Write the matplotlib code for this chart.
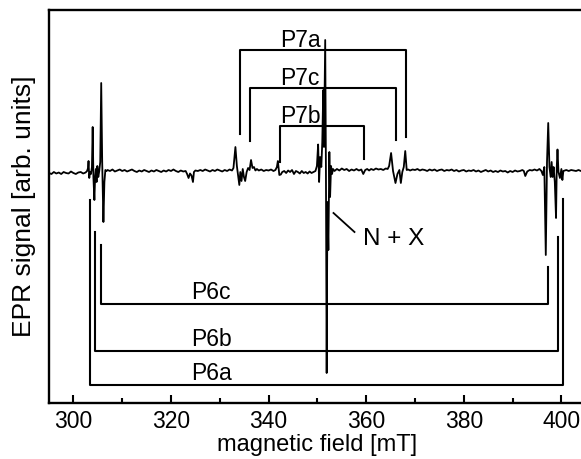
import matplotlib
matplotlib.use("Agg")
import matplotlib.pyplot as plt
from matplotlib.ticker import MultipleLocator

plt.rcParams['font.family'] = ['Liberation Sans', 'DejaVu Sans']

# EPR trace: (field in mT, signal in arb. units)
trace = [
    (295.0, -0.02), (295.5, -0.04), (296.0, 0.0), (296.5, -0.03), (297.0, -0.01),
    (297.5, -0.04), (298.0, 0.0), (298.5, -0.02), (299.0, -0.03), (299.5, 0.01),
    (300.0, -0.02), (300.5, -0.04), (301.0, -0.01), (301.5, 0.0), (302.0, -0.03),
    (302.5, -0.01),
    # P6 low-field lines
    (302.8, 0.02), (303.0, 0.08), (303.1, 0.22), (303.25, -0.12), (303.4, 0.0),
    (303.6, -0.04), (303.8, 0.1), (303.95, 0.9), (304.1, -0.1), (304.3, -0.56),
    (304.45, -0.1), (304.6, 0.06), (304.75, -0.2), (304.9, 0.12), (305.1, -0.1),
    (305.3, 0.02), (305.5, 0.2), (305.7, 1.78), (305.9, 0.2), (306.15, -1.0),
    (306.35, -0.2), (306.55, 0.04), (306.8, 0.02),
    (307.0, 0.04), (307.5, 0.02), (308.0, 0.05), (308.5, 0.01), (309.0, 0.03),
    (309.5, 0.05), (310.0, 0.02), (310.5, 0.04), (311.0, 0.01), (311.5, 0.03),
    (312.0, 0.05), (312.5, 0.02), (313.0, 0.0), (313.5, 0.03), (314.0, 0.01),
    (314.5, 0.04), (315.0, 0.02), (315.5, 0.0), (316.0, 0.03), (316.5, 0.01),
    (317.0, 0.04), (317.5, 0.02), (318.0, 0.0), (318.5, 0.03), (319.0, 0.01),
    (319.5, 0.04), (320.0, 0.02), (320.5, 0.05), (321.0, 0.02), (321.5, 0.0),
    (322.0, 0.03), (322.5, 0.01), (323.0, 0.02),
    (323.3, -0.04), (323.6, -0.12), (323.9, -0.03), (324.2, -0.07), (324.5, -0.2),
    (324.7, 0.0), (325.0, 0.03),
    (325.5, 0.02), (326.0, 0.04), (326.5, 0.02), (327.0, 0.05), (327.5, 0.03),
    (328.0, 0.01), (328.5, 0.04), (329.0, 0.02), (329.5, 0.05), (330.0, 0.03),
    (330.5, 0.01), (331.0, 0.04), (331.5, 0.02), (332.0, 0.05), (332.5, 0.03),
    # P7 low-field lines
    (332.8, 0.08), (333.2, 0.5), (333.5, 0.12), (333.8, -0.1), (334.0, -0.26),
    (334.2, 0.0), (334.45, -0.18), (334.7, 0.06), (334.95, -0.1), (335.2, -0.18),
    (335.5, 0.0), (335.8, 0.08), (336.1, 0.04), (336.4, 0.24), (336.7, 0.08),
    (337.0, 0.1), (337.3, 0.03),
    (337.6, 0.06), (338.0, 0.03), (338.5, 0.05), (339.0, 0.02), (339.5, 0.04),
    (340.0, 0.03), (340.5, 0.05), (341.0, 0.02), (341.4, 0.04),
    (341.7, 0.1), (341.9, 0.22), (342.2, -0.06), (342.5, -0.05), (342.8, 0.0),
    (343.2, 0.02), (343.6, -0.02), (344.0, 0.03), (344.4, 0.0), (344.8, 0.04),
    (345.2, -0.04), (345.6, 0.02), (346.0, 0.0), (346.4, -0.03), (346.8, 0.02),
    (347.2, -0.02), (347.6, 0.0), (348.0, -0.03), (348.4, 0.01), (348.8, -0.02),
    (349.2, 0.0), (349.6, 0.02),
    # central N + X line
    (349.9, 0.12), (350.15, 0.55), (350.35, -0.2), (350.55, 0.3), (350.8, 0.1),
    (351.0, 0.6), (351.2, 1.64), (351.35, 0.5), (351.6, 2.64), (351.75, 0.0),
    (351.9, -4.02), (352.05, -0.6), (352.25, -1.56), (352.45, 0.4), (352.6, -0.5),
    (352.8, 0.12), (353.0, -0.04), (353.2, 0.06),
    (353.5, 0.02), (354.0, 0.06), (354.5, 0.03), (355.0, 0.07), (355.5, 0.04),
    (356.0, 0.06), (356.5, 0.02), (357.0, 0.05), (357.5, 0.03), (358.0, 0.06),
    (358.5, 0.03), (359.0, 0.05), (359.4, -0.04), (359.8, 0.04), (360.2, 0.06),
    (360.6, 0.03), (361.0, 0.06), (361.5, 0.04), (362.0, 0.07), (362.5, 0.05),
    (363.0, 0.06), (363.5, 0.04), (364.0, 0.07), (364.4, 0.06),
    # P7 high-field lines
    (364.7, 0.12), (365.1, 0.38), (365.5, 0.02), (365.8, -0.12), (366.0, -0.22),
    (366.4, -0.04), (366.8, 0.04), (367.1, -0.22), (367.4, 0.0), (367.7, 0.1),
    (368.0, 0.42), (368.3, 0.04),
    (368.6, 0.05), (369.0, 0.03), (369.5, 0.05), (370.0, 0.04), (370.5, 0.06),
    (371.0, 0.03), (371.5, 0.05), (372.0, 0.04), (372.5, 0.02), (373.0, 0.05),
    (373.5, 0.03), (374.0, 0.05), (374.5, 0.02), (375.0, 0.04), (375.5, 0.05),
    (376.0, 0.02), (376.5, 0.04), (377.0, 0.03), (377.5, 0.05), (378.0, 0.02),
    (378.5, 0.04), (379.0, 0.01), (379.5, 0.03), (380.0, 0.04), (380.5, 0.01),
    (381.0, 0.03), (381.5, 0.02), (382.0, 0.04), (382.5, 0.01), (383.0, 0.03),
    (383.5, 0.0), (384.0, 0.02), (384.5, 0.04), (385.0, 0.01), (385.5, 0.03),
    (386.0, 0.0), (386.5, 0.02), (387.0, 0.0), (387.5, 0.03), (388.0, 0.01),
    (388.5, 0.02), (389.0, -0.01), (389.5, 0.02), (390.0, 0.0), (390.5, 0.03),
    (391.0, 0.01), (391.5, 0.02), (392.0, 0.04), (392.3, 0.02), (392.6, -0.08),
    (393.0, 0.01), (393.5, 0.04), (394.0, 0.03), (394.5, 0.05), (395.0, 0.03),
    (395.5, 0.06),
    # P6 high-field lines
    (395.9, 0.02), (396.2, -0.06), (396.5, 0.1), (396.8, -1.66), (397.05, 0.2),
    (397.3, 0.98), (397.55, 0.1), (397.8, -0.1), (398.0, 0.2), (398.2, -0.1),
    (398.4, 0.1), (398.65, -0.2), (398.9, -0.92), (399.05, 0.1), (399.2, 0.45),
    (399.4, 0.0), (399.7, -0.12), (400.0, 0.06), (400.2, -0.16), (400.4, 0.02),
    (400.7, 0.03),
    (401.0, 0.04), (401.5, 0.02), (402.0, 0.04), (402.5, 0.03), (403.0, 0.02),
    (403.5, 0.04), (404.0, 0.02), (404.5, 0.03), (405.0, 0.02),
]
field = [p[0] for p in trace]
signal = [p[1] for p in trace]

# line assignments: name, low-field line, high-field line (mT)
p7_names = ["P7a", "P7c", "P7b"]
p7_low = [334.2, 336.1, 342.3]
p7_high = [368.2, 366.2, 359.5]
p6_names = ["P6c", "P6b", "P6a"]
p6_low = [305.7, 304.4, 303.5]
p6_high = [397.3, 399.3, 400.4]

fig = plt.figure(figsize=(5.81, 4.59), dpi=100)
ax = fig.add_axes([49 / 581, 56 / 459, 536.8 / 581, 393 / 459])

ax.plot(field, signal, color='k', lw=1.3)

# bracket levels (bar, low tip, high tip)
p7_levels = [(2.44, 0.76, 0.70), (1.68, 0.62, 0.64), (0.92, 0.20, 0.26)]
p6_levels = [(-2.64, -1.46, -1.90), (-3.58, -1.20, -1.30), (-4.26, -0.56, -0.54)]

for name, lo, hi, (bar, t1, t2) in zip(p7_names, p7_low, p7_high, p7_levels):
    ax.plot([lo, lo, hi, hi], [t1, bar, bar, t2], color='k', lw=1.5)
    ax.text(342.3, bar + 0.06, name, fontsize=16.5, ha='left', va='baseline')

for name, lo, hi, (bar, t1, t2) in zip(p6_names, p6_low, p6_high, p6_levels):
    ax.plot([lo, lo, hi, hi], [t1, bar, bar, t2], color='k', lw=1.5)
    ax.text(324.2, bar + 0.1, name, fontsize=16.5, ha='left', va='baseline')

ax.plot([353.3, 357.6], [-0.82, -1.2], color='k', lw=1.3)
ax.text(359.4, -1.46, "N + X", fontsize=17.5, ha='left', va='baseline')

ax.set_xlim(295, 405)
ax.set_ylim(-4.62, 3.24)
ax.set_yticks([])
ax.set_xticks(range(300, 401, 20))
ax.xaxis.set_minor_locator(MultipleLocator(10))
ax.tick_params(axis='x', which='major', direction='in', length=6, width=1.5,
               labelsize=16.5, pad=5)
ax.tick_params(axis='x', which='minor', direction='in', length=3.6, width=1.5)
for s in ax.spines.values():
    s.set_linewidth(1.7)

ax.set_xlabel("magnetic field [mT]", fontsize=17, labelpad=1)
ax.set_ylabel("EPR signal [arb. units]", fontsize=19, labelpad=9)

fig.savefig("out.png", dpi=100)
